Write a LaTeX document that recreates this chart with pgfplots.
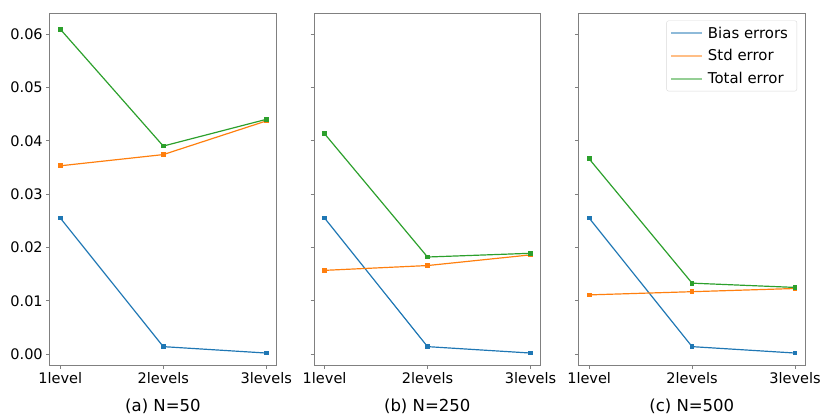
\documentclass[border=0pt]{standalone}
\usepackage{pgfplots}
\pgfplotsset{compat=1.18}
\usepackage{fontspec}
\setmainfont{DejaVu Sans}
\definecolor{tabblue}{HTML}{1F77B4}
\definecolor{taborange}{HTML}{FF7F0E}
\definecolor{tabgreen}{HTML}{2CA02C}
\definecolor{spine}{HTML}{808080}
\pgfplotsset{
  myaxis/.style={
    scale only axis,
    width=227.7pt, height=354pt,
    xmin=-0.103, xmax=2.097,
    ymin=-0.0021, ymax=0.0639,
    xtick={0,1,2},
    xticklabels={1level,2levels,3levels},
    ytick={0,0.01,0.02,0.03,0.04,0.05,0.06},
    yticklabel style={/pgf/number format/fixed,/pgf/number format/fixed zerofill,/pgf/number format/precision=2},
    scaled y ticks=false,
    /pgf/number format/assume math mode=true,
    tick align=outside,
    major tick length=3.5pt,
    tick style={spine, line width=0.6pt},
    axis line style={spine, line width=0.8pt},
    xtick pos=bottom, ytick pos=left,
    font=\fontsize{14.6}{17}\selectfont,
    every tick label/.append style={font=\fontsize{14.6}{17}\selectfont},
    every axis x label/.style={at={(rel axis cs:0.5,0)},anchor=center,yshift=-41pt,font=\fontsize{16.6}{19}\selectfont},
    every axis plot/.append style={line width=1.2pt, mark=square*, mark size=1.8pt},
    legend image code/.code={\draw[line width=1.6pt, opacity=0.5] (0pt,0pt) -- (31pt,0pt);},
  }
}
\begin{document}
\begin{tikzpicture}
\path (0pt,0pt) rectangle (824pt,421pt);
% panel a
\begin{axis}[myaxis, at={(50pt,53.7pt)}, anchor=south west, xlabel={(a) N=50}]
\addplot[tabblue, mark options={fill=tabblue}] coordinates {(0,0.0255) (1,0.0014) (2,0.0002)};
\addplot[taborange, mark options={fill=taborange}] coordinates {(0,0.0353) (1,0.0374) (2,0.0437)};
\addplot[tabgreen, mark options={fill=tabgreen}] coordinates {(0,0.0609) (1,0.0390) (2,0.0440)};
\end{axis}
% panel b
\begin{axis}[myaxis, at={(315.7pt,53.7pt)}, anchor=south west, xlabel={(b) N=250}, yticklabels={}]
\addplot[tabblue, mark options={fill=tabblue}] coordinates {(0,0.0255) (1,0.0014) (2,0.0002)};
\addplot[taborange, mark options={fill=taborange}] coordinates {(0,0.0157) (1,0.0166) (2,0.0186)};
\addplot[tabgreen, mark options={fill=tabgreen}] coordinates {(0,0.0413) (1,0.0182) (2,0.0189)};
\end{axis}
% panel c
\begin{axis}[myaxis, at={(581.7pt,53.7pt)}, anchor=south west, xlabel={(c) N=500}, yticklabels={},
  legend style={at={(rel axis cs:1,1)}, anchor=north east, xshift=-8pt, yshift=-7.4pt,
    draw=black!15, rounded corners=2pt, fill=white,
    font=\fontsize{15}{17}\selectfont, row sep=6pt, inner xsep=4pt, inner ysep=4pt,
    nodes={inner xsep=5pt}},
  legend cell align=left]
\addplot[tabblue, mark options={fill=tabblue}] coordinates {(0,0.0255) (1,0.0014) (2,0.0002)};
\addlegendentry{Bias errors}
\addplot[taborange, mark options={fill=taborange}] coordinates {(0,0.0111) (1,0.0117) (2,0.0123)};
\addlegendentry{Std error}
\addplot[tabgreen, mark options={fill=tabgreen}] coordinates {(0,0.0366) (1,0.0133) (2,0.0125)};
\addlegendentry{Total error}
\end{axis}
\end{tikzpicture}
\end{document}
